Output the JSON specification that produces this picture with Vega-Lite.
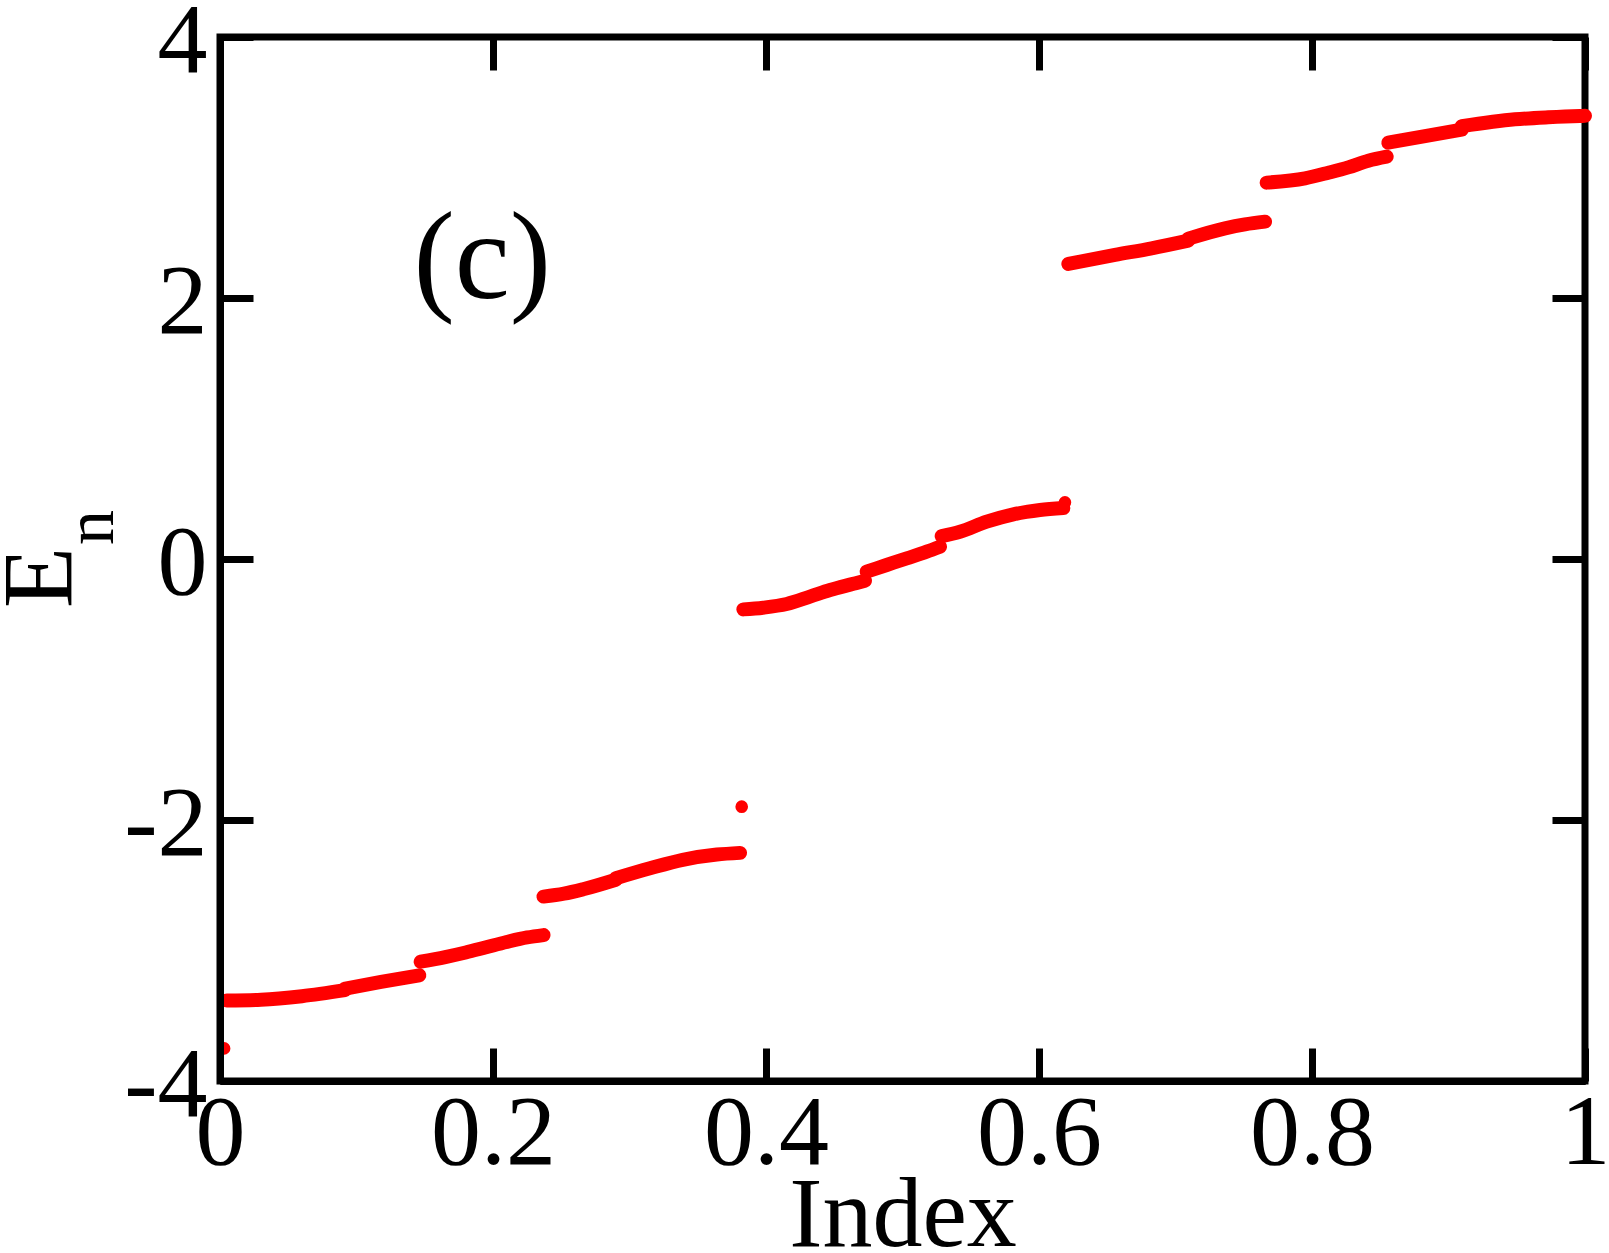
{
  "$schema": "https://vega.github.io/schema/vega-lite/v6.json",
  "width": 1365,
  "height": 1044,
  "autosize": {"type": "none"},
  "padding": {"left": 220, "top": 37, "right": 24, "bottom": 172},
  "background": "white",
  "config": {
    "view": {"stroke": "black", "strokeWidth": 7},
    "axis": {
      "labelFont": "Liberation Serif",
      "titleFont": "Liberation Serif",
      "labelColor": "black",
      "titleColor": "black",
      "labelFontSize": 100,
      "titleFontSize": 100,
      "titleFontWeight": "normal",
      "grid": false,
      "domain": false,
      "tickColor": "black",
      "tickWidth": 7,
      "tickSize": -33,
      "labelFlush": false,
      "labelOverlap": false,
      "labelBound": false
    }
  },
  "datasets": {
    "bands": [
      {"seg": "A1", "index": 0.005, "E": -3.383},
      {"seg": "A1", "index": 0.030, "E": -3.377},
      {"seg": "A1", "index": 0.060, "E": -3.350},
      {"seg": "A1", "index": 0.0916, "E": -3.304},
      {"seg": "A2", "index": 0.0916, "E": -3.292},
      {"seg": "A2", "index": 0.118, "E": -3.241},
      {"seg": "A2", "index": 0.146, "E": -3.190},
      {"seg": "B", "index": 0.147, "E": -3.086},
      {"seg": "B", "index": 0.165, "E": -3.050},
      {"seg": "B", "index": 0.180, "E": -3.015},
      {"seg": "B", "index": 0.195, "E": -2.975},
      {"seg": "B", "index": 0.210, "E": -2.935},
      {"seg": "B", "index": 0.225, "E": -2.900},
      {"seg": "B", "index": 0.237, "E": -2.882},
      {"seg": "C1", "index": 0.237, "E": -2.587},
      {"seg": "C1", "index": 0.252, "E": -2.565},
      {"seg": "C1", "index": 0.266, "E": -2.531},
      {"seg": "C1", "index": 0.290, "E": -2.458},
      {"seg": "C2", "index": 0.290, "E": -2.446},
      {"seg": "C2", "index": 0.315, "E": -2.370},
      {"seg": "C2", "index": 0.339, "E": -2.305},
      {"seg": "C2", "index": 0.364, "E": -2.265},
      {"seg": "C2", "index": 0.381, "E": -2.252},
      {"seg": "D1", "index": 0.3834, "E": -0.386},
      {"seg": "D1", "index": 0.398, "E": -0.373},
      {"seg": "D1", "index": 0.4152, "E": -0.345},
      {"seg": "D1", "index": 0.4322, "E": -0.289},
      {"seg": "D1", "index": 0.4469, "E": -0.238},
      {"seg": "D1", "index": 0.464, "E": -0.190},
      {"seg": "D1", "index": 0.4725, "E": -0.166},
      {"seg": "D2", "index": 0.4737, "E": -0.097},
      {"seg": "D2", "index": 0.4884, "E": -0.046},
      {"seg": "D2", "index": 0.5031, "E": 0.005},
      {"seg": "D2", "index": 0.5177, "E": 0.056},
      {"seg": "D2", "index": 0.5275, "E": 0.094},
      {"seg": "D3", "index": 0.5287, "E": 0.176},
      {"seg": "D3", "index": 0.5421, "E": 0.209},
      {"seg": "D3", "index": 0.5617, "E": 0.286},
      {"seg": "D3", "index": 0.5812, "E": 0.342},
      {"seg": "D3", "index": 0.6007, "E": 0.375},
      {"seg": "D3", "index": 0.6178, "E": 0.390},
      {"seg": "E1", "index": 0.6215, "E": 2.261},
      {"seg": "E1", "index": 0.6557, "E": 2.330},
      {"seg": "E1", "index": 0.6825, "E": 2.381},
      {"seg": "E1", "index": 0.7094, "E": 2.440},
      {"seg": "E2", "index": 0.7094, "E": 2.455},
      {"seg": "E2", "index": 0.7363, "E": 2.534},
      {"seg": "E2", "index": 0.7509, "E": 2.564},
      {"seg": "E2", "index": 0.7656, "E": 2.585},
      {"seg": "F", "index": 0.7668, "E": 2.884},
      {"seg": "F", "index": 0.7949, "E": 2.917},
      {"seg": "F", "index": 0.812, "E": 2.960},
      {"seg": "F", "index": 0.8266, "E": 3.001},
      {"seg": "F", "index": 0.8413, "E": 3.052},
      {"seg": "F", "index": 0.8547, "E": 3.083},
      {"seg": "G1", "index": 0.8559, "E": 3.190},
      {"seg": "G1", "index": 0.8828, "E": 3.241},
      {"seg": "G1", "index": 0.9097, "E": 3.290},
      {"seg": "G2", "index": 0.9097, "E": 3.316},
      {"seg": "G2", "index": 0.9487, "E": 3.369},
      {"seg": "G2", "index": 0.9731, "E": 3.385},
      {"seg": "G2", "index": 0.9963, "E": 3.395},
      {"seg": "G2", "index": 1.0, "E": 3.396}
    ],
    "isolated": [
      {"index": 0.003, "E": -3.75},
      {"index": 0.3822, "E": -1.898},
      {"index": 0.619, "E": 0.434}
    ],
    "panel": [
      {"label": "(c)", "index": 0.1922, "E": 2.0}
    ]
  },
  "layer": [
    {
      "data": {"name": "bands"},
      "mark": {
        "type": "line",
        "color": "#ff0000",
        "strokeWidth": 14,
        "strokeCap": "round",
        "strokeJoin": "round",
        "interpolate": "monotone",
        "clip": false
      },
      "encoding": {
        "x": {
          "field": "index",
          "type": "quantitative",
          "scale": {"domain": [0, 1], "nice": false, "zero": false},
          "axis": {
            "orient": "bottom",
            "values": [0, 0.2, 0.4, 0.6, 0.8, 1],
            "format": ".1~f",
            "labelPadding": 36,
            "title": "Index",
            "titleX": 682.5,
            "titleY": 164,
            "titleAlign": "center",
            "titleBaseline": "alphabetic",
            "domain": true,
            "domainColor": "black",
            "domainWidth": 7,
            "zindex": 1
          }
        },
        "y": {
          "field": "E",
          "type": "quantitative",
          "scale": {"domain": [-4, 4], "nice": false, "zero": false},
          "axis": {
            "orient": "left",
            "values": [-4, -2, 0, 2, 4],
            "labelExpr": "(datum.value < 0 ? '-' : '') + abs(datum.value)",
            "labelPadding": 46,
            "labelOffset": 4,
            "title": "E",
            "titleAngle": 270,
            "titleX": -150,
            "titleY": 540,
            "titleAlign": "center",
            "titleBaseline": "alphabetic",
            "domain": true,
            "domainColor": "black",
            "domainWidth": 7,
            "zindex": 1
          }
        },
        "detail": {"field": "seg", "type": "nominal"}
      }
    },
    {
      "data": {"name": "isolated"},
      "mark": {"type": "circle", "color": "#ff0000", "opacity": 1, "size": 160, "clip": false},
      "encoding": {
        "x": {
          "field": "index",
          "type": "quantitative",
          "axis": {
            "orient": "top",
            "values": [0, 0.2, 0.4, 0.6, 0.8, 1],
            "labels": false,
            "title": null
          }
        },
        "y": {
          "field": "E",
          "type": "quantitative",
          "axis": {
            "orient": "right",
            "values": [-4, -2, 0, 2, 4],
            "labels": false,
            "title": null
          }
        }
      }
    },
    {
      "data": {"name": "panel"},
      "mark": {
        "type": "text",
        "font": "Liberation Serif",
        "fontSize": 124,
        "color": "black",
        "align": "center",
        "baseline": "alphabetic"
      },
      "encoding": {
        "x": {"field": "index", "type": "quantitative", "axis": null},
        "y": {
          "field": "E",
          "type": "quantitative",
          "axis": {
            "orient": "left",
            "labels": false,
            "ticks": false,
            "domain": false,
            "title": "n",
            "titleFontSize": 70,
            "titleAngle": 270,
            "titleX": -108,
            "titleY": 490,
            "titleAlign": "center",
            "titleBaseline": "alphabetic"
          }
        },
        "text": {"field": "label", "type": "nominal"}
      }
    }
  ],
  "resolve": {"axis": {"x": "independent", "y": "independent"}}
}
